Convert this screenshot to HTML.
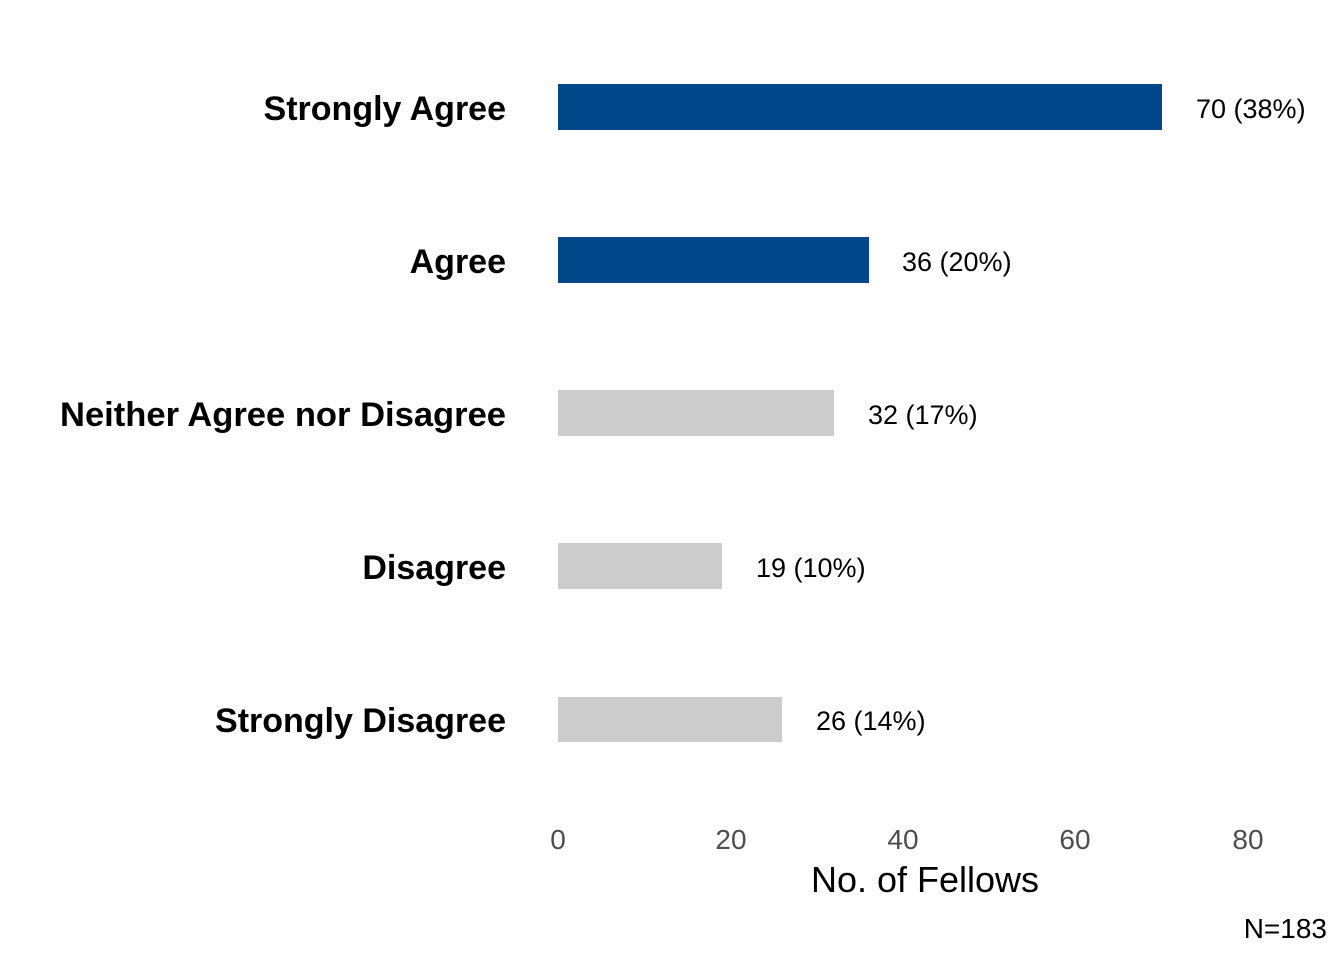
<!DOCTYPE html>
<html><head><meta charset="utf-8"><style>
html,body{margin:0;padding:0;background:#fff;}
svg{display:block;font-family:"Liberation Sans",sans-serif;}
</style></head><body>
<svg width="1344" height="960" viewBox="0 0 1344 960" xmlns="http://www.w3.org/2000/svg">
<rect width="1344" height="960" fill="#fff"/>
<g fill="#000" font-size="34" text-anchor="end" font-weight="bold">
<text x="506" y="120">Strongly Agree</text>
<text x="506" y="273">Agree</text>
<text x="506" y="426" textLength="446" lengthAdjust="spacingAndGlyphs">Neither Agree nor Disagree</text>
<text x="506" y="579">Disagree</text>
<text x="506" y="732">Strongly Disagree</text>
</g>
<rect x="558" y="84" width="604" height="46" fill="#00478a"/>
<rect x="558" y="237" width="311" height="46" fill="#00478a"/>
<rect x="558" y="390" width="276" height="46" fill="#cccccc"/>
<rect x="558" y="543" width="164" height="46" fill="#cccccc"/>
<rect x="558" y="697" width="224" height="45" fill="#cccccc"/>
<g fill="#000" font-size="27">
<text x="1196" y="118">70 (38%)</text>
<text x="902" y="271">36 (20%)</text>
<text x="868" y="424">32 (17%)</text>
<text x="756" y="577">19 (10%)</text>
<text x="816" y="730">26 (14%)</text>
</g>
<g fill="#4d4d4d" font-size="28" text-anchor="middle">
<text x="558" y="849">0</text>
<text x="731" y="849">20</text>
<text x="903" y="849">40</text>
<text x="1075" y="849">60</text>
<text x="1248" y="849">80</text>
</g>
<text x="925" y="892" font-size="36" text-anchor="middle" fill="#000">No. of Fellows</text>
<text x="1327" y="938" font-size="28" text-anchor="end" fill="#000">N=183</text>
</svg>
</body></html>
